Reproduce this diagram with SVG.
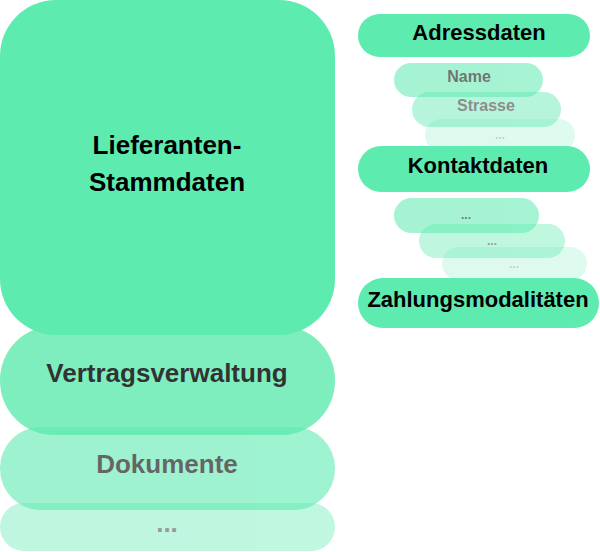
<svg xmlns="http://www.w3.org/2000/svg" width="600" height="552" viewBox="0 0 600 552">
<style>
.b{fill:#5EEBB0}
text{font-family:"Liberation Sans",Arial,sans-serif;font-weight:bold;text-anchor:middle;fill:#000}
.big{font-size:26px}
.mid{font-size:22px}
.sm{font-size:16px}
.dots{font-size:12px}
</style>
<rect width="600" height="552" fill="#fff"/>
<g id="stammdaten">
<rect class="b" x="0" y="0" width="335" height="335" rx="56"/>
<text class="big" x="167" y="154">Lieferanten-</text>
<text class="big" x="167" y="191">Stammdaten</text>
</g>
<g id="vertragsverwaltung" opacity="0.8">
<rect class="b" x="0" y="326" width="335" height="109" rx="54"/>
<text class="big" x="167" y="382">Vertragsverwaltung</text>
</g>
<g id="dokumente" opacity="0.6">
<rect class="b" x="0" y="427" width="335" height="83" rx="41"/>
<text class="big" x="167" y="473">Dokumente</text>
</g>
<g id="more" opacity="0.4">
<rect class="b" x="0" y="503" width="335" height="48" rx="24"/>
<text class="big" x="167" y="532">...</text>
</g>
<g id="adressdaten">
<rect class="b" x="358" y="14" width="232" height="43" rx="21.5"/>
<text class="mid" x="479" y="40">Adressdaten</text>
</g>
<g id="name" opacity="0.55">
<rect class="b" x="394" y="63" width="149" height="34" rx="17"/>
<text class="sm" x="469" y="82">Name</text>
</g>
<g id="strasse" opacity="0.45">
<rect class="b" x="412" y="92" width="149" height="35" rx="17.5"/>
<text class="sm" x="486" y="111">Strasse</text>
</g>
<g id="adress-more" opacity="0.2">
<rect class="b" x="425" y="119" width="150" height="32" rx="16"/>
<text class="dots" x="500" y="139">...</text>
</g>
<g id="kontaktdaten">
<rect class="b" x="358" y="146" width="232" height="46" rx="23"/>
<text class="mid" x="478" y="173">Kontaktdaten</text>
</g>
<g id="kontakt-more1" opacity="0.55">
<rect class="b" x="394" y="198" width="145" height="35" rx="17.5"/>
<text class="dots" x="466" y="219">...</text>
</g>
<g id="kontakt-more2" opacity="0.4">
<rect class="b" x="419" y="224" width="146" height="34" rx="17"/>
<text class="dots" x="492" y="245">...</text>
</g>
<g id="kontakt-more3" opacity="0.2">
<rect class="b" x="442" y="247" width="145" height="33" rx="16.5"/>
<text class="dots" x="514" y="268">...</text>
</g>
<g id="zahlungsmodalitaeten">
<rect class="b" x="358" y="278" width="241" height="50" rx="25"/>
<text class="mid" x="478" y="307">Zahlungsmodalitäten</text>
</g>
<g id="connectors"/>
</svg>
